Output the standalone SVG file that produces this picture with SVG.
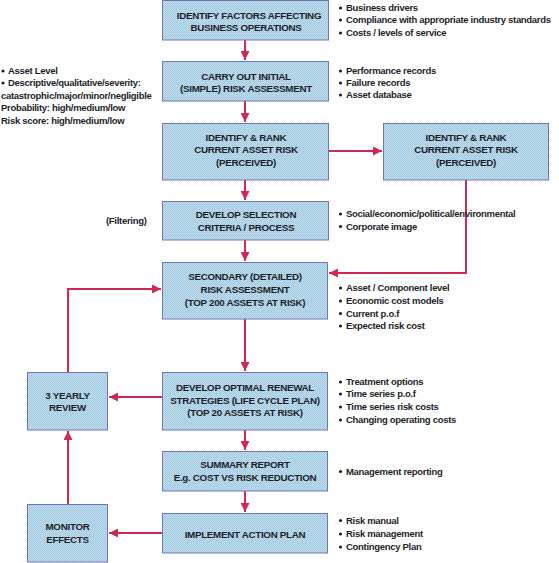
<svg xmlns="http://www.w3.org/2000/svg" width="559" height="563" viewBox="0 0 559 563">
<style>
.box{fill:#b4d6e8;stroke:#7474b4;stroke-width:1}
.bt{font-family:"Liberation Sans",Arial,sans-serif;font-weight:bold;font-size:9.8px;letter-spacing:-0.3px;fill:#1e1e2a;text-anchor:middle}
.st{font-family:"Liberation Sans",Arial,sans-serif;font-weight:bold;font-size:9.5px;letter-spacing:-0.3px;fill:#1e1e2a}
.con{fill:none;stroke:#cc2a55;stroke-width:2}
.dot{fill:#1e1e2a}
</style>
<defs>
<pattern id="dith" width="2" height="2" patternUnits="userSpaceOnUse">
<rect width="2" height="2" fill="#bfe0ee"/>
<rect width="1" height="1" fill="#a2c6de"/>
<rect x="1" y="1" width="1" height="1" fill="#a2c6de"/>
</pattern>
<marker id="ah" viewBox="0 0 10 10" refX="10" refY="5" markerWidth="4.5" markerHeight="4.5" orient="auto" markerUnits="strokeWidth">
<path d="M0,0 L10,5 L0,10 z" fill="#cc2a55"/>
</marker>
</defs>

<g id="connectors">
<path class="con" d="M245,40 V60" marker-end="url(#ah)"/>
<path class="con" d="M245,101 V122" marker-end="url(#ah)"/>
<path class="con" d="M245,180 V200" marker-end="url(#ah)"/>
<path class="con" d="M245,240 V261" marker-end="url(#ah)"/>
<path class="con" d="M245,319 V371" marker-end="url(#ah)"/>
<path class="con" d="M245,430 V450" marker-end="url(#ah)"/>
<path class="con" d="M245,491 V512" marker-end="url(#ah)"/>
<path class="con" d="M328,151 H382" marker-end="url(#ah)"/>
<path class="con" d="M466,180 V273 H329" marker-end="url(#ah)"/>
<path class="con" d="M68,372 V289 H161" marker-end="url(#ah)"/>
<path class="con" d="M162,397 H109" marker-end="url(#ah)"/>
<path class="con" d="M68,504 V431" marker-end="url(#ah)"/>
<path class="con" d="M162,533 H109" marker-end="url(#ah)"/>
</g>

<g id="n1">
<rect class="box" x="162.5" y="0.5" width="166" height="39.5" style="fill:url(#dith)"/>
<text class="bt" x="249" y="19">IDENTIFY FACTORS AFFECTING</text>
<text class="bt" x="246" y="31">BUSINESS OPERATIONS</text>
</g>
<g id="n2">
<rect class="box" x="162.5" y="61.5" width="166" height="39.5" style="fill:url(#dith)"/>
<text class="bt" x="246" y="79.5">CARRY OUT INITIAL</text>
<text class="bt" x="246" y="92">(SIMPLE) RISK ASSESSMENT</text>
</g>
<g id="n3">
<rect class="box" x="162.5" y="123.5" width="166" height="56.5" style="fill:url(#dith)"/>
<text class="bt" x="246" y="140.5">IDENTIFY &amp; RANK</text>
<text class="bt" x="246" y="153">CURRENT ASSET RISK</text>
<text class="bt" x="246" y="166">(PERCEIVED)</text>
</g>
<g id="n3b">
<rect class="box" x="383.5" y="123.5" width="165" height="56.5" style="fill:url(#dith)"/>
<text class="bt" x="466" y="140.5">IDENTIFY &amp; RANK</text>
<text class="bt" x="466" y="153">CURRENT ASSET RISK</text>
<text class="bt" x="466" y="166">(PERCEIVED)</text>
</g>
<g id="n4">
<rect class="box" x="162.5" y="201.5" width="166" height="38.5" style="fill:url(#dith)"/>
<text class="bt" x="246" y="218">DEVELOP SELECTION</text>
<text class="bt" x="246" y="231">CRITERIA / PROCESS</text>
</g>
<g id="n5">
<rect class="box" x="162.5" y="262.5" width="165" height="56.5" style="fill:url(#dith)"/>
<text class="bt" x="245" y="279.5">SECONDARY (DETAILED)</text>
<text class="bt" x="245" y="293">RISK ASSESSMENT</text>
<text class="bt" x="245" y="306">(TOP 200 ASSETS AT RISK)</text>
</g>
<g id="n6">
<rect class="box" x="162.5" y="372.5" width="165" height="57.5" style="fill:url(#dith)"/>
<text class="bt" x="245" y="391">DEVELOP OPTIMAL RENEWAL</text>
<text class="bt" x="245" y="403.5">STRATEGIES (LIFE CYCLE PLAN)</text>
<text class="bt" x="245" y="416">(TOP 20 ASSETS AT RISK)</text>
</g>
<g id="n7">
<rect class="box" x="162.5" y="451.5" width="165" height="39.5" style="fill:url(#dith)"/>
<text class="bt" x="245" y="468">SUMMARY REPORT</text>
<text class="bt" x="245" y="481">E.g. COST VS RISK REDUCTION</text>
</g>
<g id="n8">
<rect class="box" x="162.5" y="513.5" width="165" height="39.5" style="fill:url(#dith)"/>
<text class="bt" x="245" y="537.5">IMPLEMENT ACTION PLAN</text>
</g>
<g id="n9">
<rect class="box" x="27.5" y="372.5" width="80" height="57.5" style="fill:url(#dith)"/>
<text class="bt" x="67.5" y="398.5">3 YEARLY</text>
<text class="bt" x="67.5" y="410.5">REVIEW</text>
</g>
<g id="n10">
<rect class="box" x="27.5" y="504.5" width="80" height="57.5" style="fill:url(#dith)"/>
<text class="bt" x="67.5" y="530">MONITOR</text>
<text class="bt" x="67.5" y="543">EFFECTS</text>
</g>

<g id="notes">
<circle class="dot" cx="340.5" cy="8" r="1.6"/><text class="st" x="346" y="11">Business drivers</text>
<circle class="dot" cx="340.5" cy="20" r="1.6"/><text class="st" x="346" y="23">Compliance with appropriate industry standards</text>
<circle class="dot" cx="340.5" cy="33" r="1.6"/><text class="st" x="346" y="36">Costs / levels of service</text>

<circle class="dot" cx="340.5" cy="71" r="1.6"/><text class="st" x="346" y="74">Performance records</text>
<circle class="dot" cx="340.5" cy="83" r="1.6"/><text class="st" x="346" y="86">Failure records</text>
<circle class="dot" cx="340.5" cy="95" r="1.6"/><text class="st" x="346" y="98">Asset database</text>

<circle class="dot" cx="3" cy="71" r="1.6"/><text class="st" x="8" y="74">Asset Level</text>
<circle class="dot" cx="3" cy="83" r="1.6"/><text class="st" x="8" y="86">Descriptive/qualitative/severity:</text>
<text class="st" x="1" y="98.5">catastrophic/major/minor/negligible</text>
<text class="st" x="1" y="111">Probability: high/medium/low</text>
<text class="st" x="1" y="123.5">Risk score: high/medium/low</text>

<text class="st" x="106" y="223.5">(Filtering)</text>

<circle class="dot" cx="340.5" cy="214" r="1.6"/><text class="st" x="346" y="217">Social/economic/political/environmental</text>
<circle class="dot" cx="340.5" cy="226.5" r="1.6"/><text class="st" x="346" y="229.5">Corporate image</text>

<circle class="dot" cx="340.5" cy="288" r="1.6"/><text class="st" x="346" y="291">Asset / Component level</text>
<circle class="dot" cx="340.5" cy="301" r="1.6"/><text class="st" x="346" y="304">Economic cost models</text>
<circle class="dot" cx="340.5" cy="313.5" r="1.6"/><text class="st" x="346" y="316.5">Current p.o.f</text>
<circle class="dot" cx="340.5" cy="326" r="1.6"/><text class="st" x="346" y="329">Expected risk cost</text>

<circle class="dot" cx="340.5" cy="382" r="1.6"/><text class="st" x="346" y="385">Treatment options</text>
<circle class="dot" cx="340.5" cy="394" r="1.6"/><text class="st" x="346" y="397">Time series p.o.f</text>
<circle class="dot" cx="340.5" cy="407" r="1.6"/><text class="st" x="346" y="410">Time series risk costs</text>
<circle class="dot" cx="340.5" cy="420" r="1.6"/><text class="st" x="346" y="423">Changing operating costs</text>

<circle class="dot" cx="340.5" cy="471.5" r="1.6"/><text class="st" x="346" y="474.5">Management reporting</text>

<circle class="dot" cx="340.5" cy="520.5" r="1.6"/><text class="st" x="346" y="523.5">Risk manual</text>
<circle class="dot" cx="340.5" cy="534" r="1.6"/><text class="st" x="346" y="537">Risk management</text>
<circle class="dot" cx="340.5" cy="547" r="1.6"/><text class="st" x="346" y="550">Contingency Plan</text>
</g>
</svg>
